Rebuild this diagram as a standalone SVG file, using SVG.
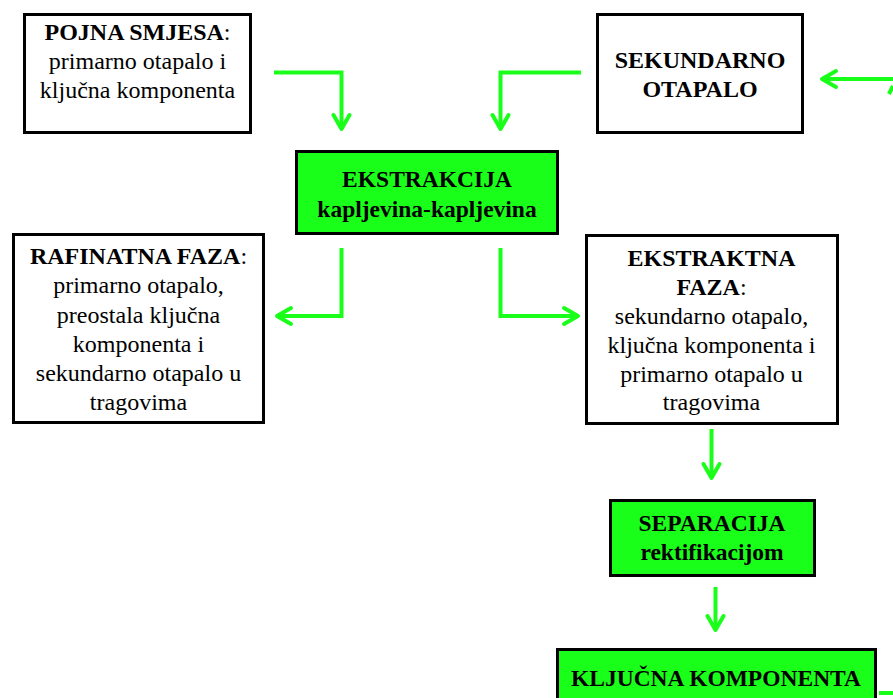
<svg xmlns="http://www.w3.org/2000/svg" width="893" height="698" viewBox="0 0 893 698" font-family="'Liberation Serif', Tinos, 'Times New Roman', 'DejaVu Serif', serif">
<defs>
<marker id="arr" viewBox="-18 -11 21 22" refX="0" refY="0" markerWidth="21" markerHeight="22" markerUnits="userSpaceOnUse" orient="auto">
<path d="M-14,-8 L0,0 L-14,8" fill="none" stroke="#1aff1a" stroke-width="4" stroke-linecap="round" stroke-linejoin="round"/>
</marker>
</defs>
<style>
.box{fill:#ffffff;stroke:#000000;stroke-width:3}
.gbox{fill:#1aff1a;stroke:#000000;stroke-width:3}
text{font-family:'Liberation Serif', Tinos, 'Times New Roman', 'DejaVu Serif', serif;fill:#000000;text-anchor:middle}
.t{font-size:24px}
.b{font-weight:bold}
.gb{font-size:23.5px;font-weight:bold}
.c{fill:none;stroke:#1aff1a;stroke-width:4}
</style>
<rect width="893" height="698" fill="#ffffff"/>
<g id="connectors">
<path class="c" d="M274,72.5 H341.5 V129" marker-end="url(#arr)"/>
<path class="c" d="M581,72.5 H500.5 V129" marker-end="url(#arr)"/>
<path class="c" d="M893,79 H822" marker-end="url(#arr)"/>
<path class="c" d="M889,94 L893,86"/>
<path class="c" d="M341.5,248 V316 H277" marker-end="url(#arr)"/>
<path class="c" d="M500.5,248 V316 H578" marker-end="url(#arr)"/>
<path class="c" d="M711.5,429 V478" marker-end="url(#arr)"/>
<path class="c" d="M715.5,587 V630" marker-end="url(#arr)"/>
<path class="c" d="M879,693 H893"/>
</g>
<g id="pojna">
<rect class="box" x="24.5" y="14.5" width="226" height="118"/>
<text class="t" x="137.5" y="39.5"><tspan class="b">POJNA SMJESA</tspan>:</text>
<text class="t" x="137.5" y="69">primarno otapalo i</text>
<text class="t" x="137.5" y="98">ključna komponenta</text>
</g>
<g id="sekundarno">
<rect class="box" x="597.5" y="14.5" width="205" height="118"/>
<text class="t b" x="700" y="68">SEKUNDARNO</text>
<text class="t b" x="700" y="97">OTAPALO</text>
</g>
<g id="ekstrakcija">
<rect class="gbox" x="296.5" y="151.5" width="261" height="82"/>
<text class="gb" x="427" y="187">EKSTRAKCIJA</text>
<text class="gb" x="427" y="217">kapljevina-kapljevina</text>
</g>
<g id="rafinatna">
<rect class="box" x="13.5" y="234.5" width="250" height="188"/>
<text class="t" x="138.5" y="264"><tspan class="b">RAFINATNA FAZA</tspan>:</text>
<text class="t" x="138.5" y="293">primarno otapalo,</text>
<text class="t" x="138.5" y="322.5">preostala ključna</text>
<text class="t" x="138.5" y="351.5">komponenta i</text>
<text class="t" x="138.5" y="381">sekundarno otapalo u</text>
<text class="t" x="138.5" y="410">tragovima</text>
</g>
<g id="ekstraktna">
<rect class="box" x="586.5" y="235.5" width="251" height="188"/>
<text class="t b" x="711.5" y="266">EKSTRAKTNA</text>
<text class="t" x="711.5" y="295"><tspan class="b">FAZA</tspan>:</text>
<text class="t" x="711.5" y="324">sekundarno otapalo,</text>
<text class="t" x="711.5" y="353">ključna komponenta i</text>
<text class="t" x="711.5" y="381.5">primarno otapalo u</text>
<text class="t" x="711.5" y="410">tragovima</text>
</g>
<g id="separacija">
<rect class="gbox" x="610.5" y="500.5" width="204" height="75"/>
<text class="gb" x="712" y="531">SEPARACIJA</text>
<text class="gb" x="712" y="560">rektifikacijom</text>
</g>
<g id="kljucna">
<rect class="gbox" x="557.5" y="649.5" width="318" height="60"/>
<text class="gb" x="716" y="685.5">KLJUČNA KOMPONENTA</text>
</g>
</svg>
